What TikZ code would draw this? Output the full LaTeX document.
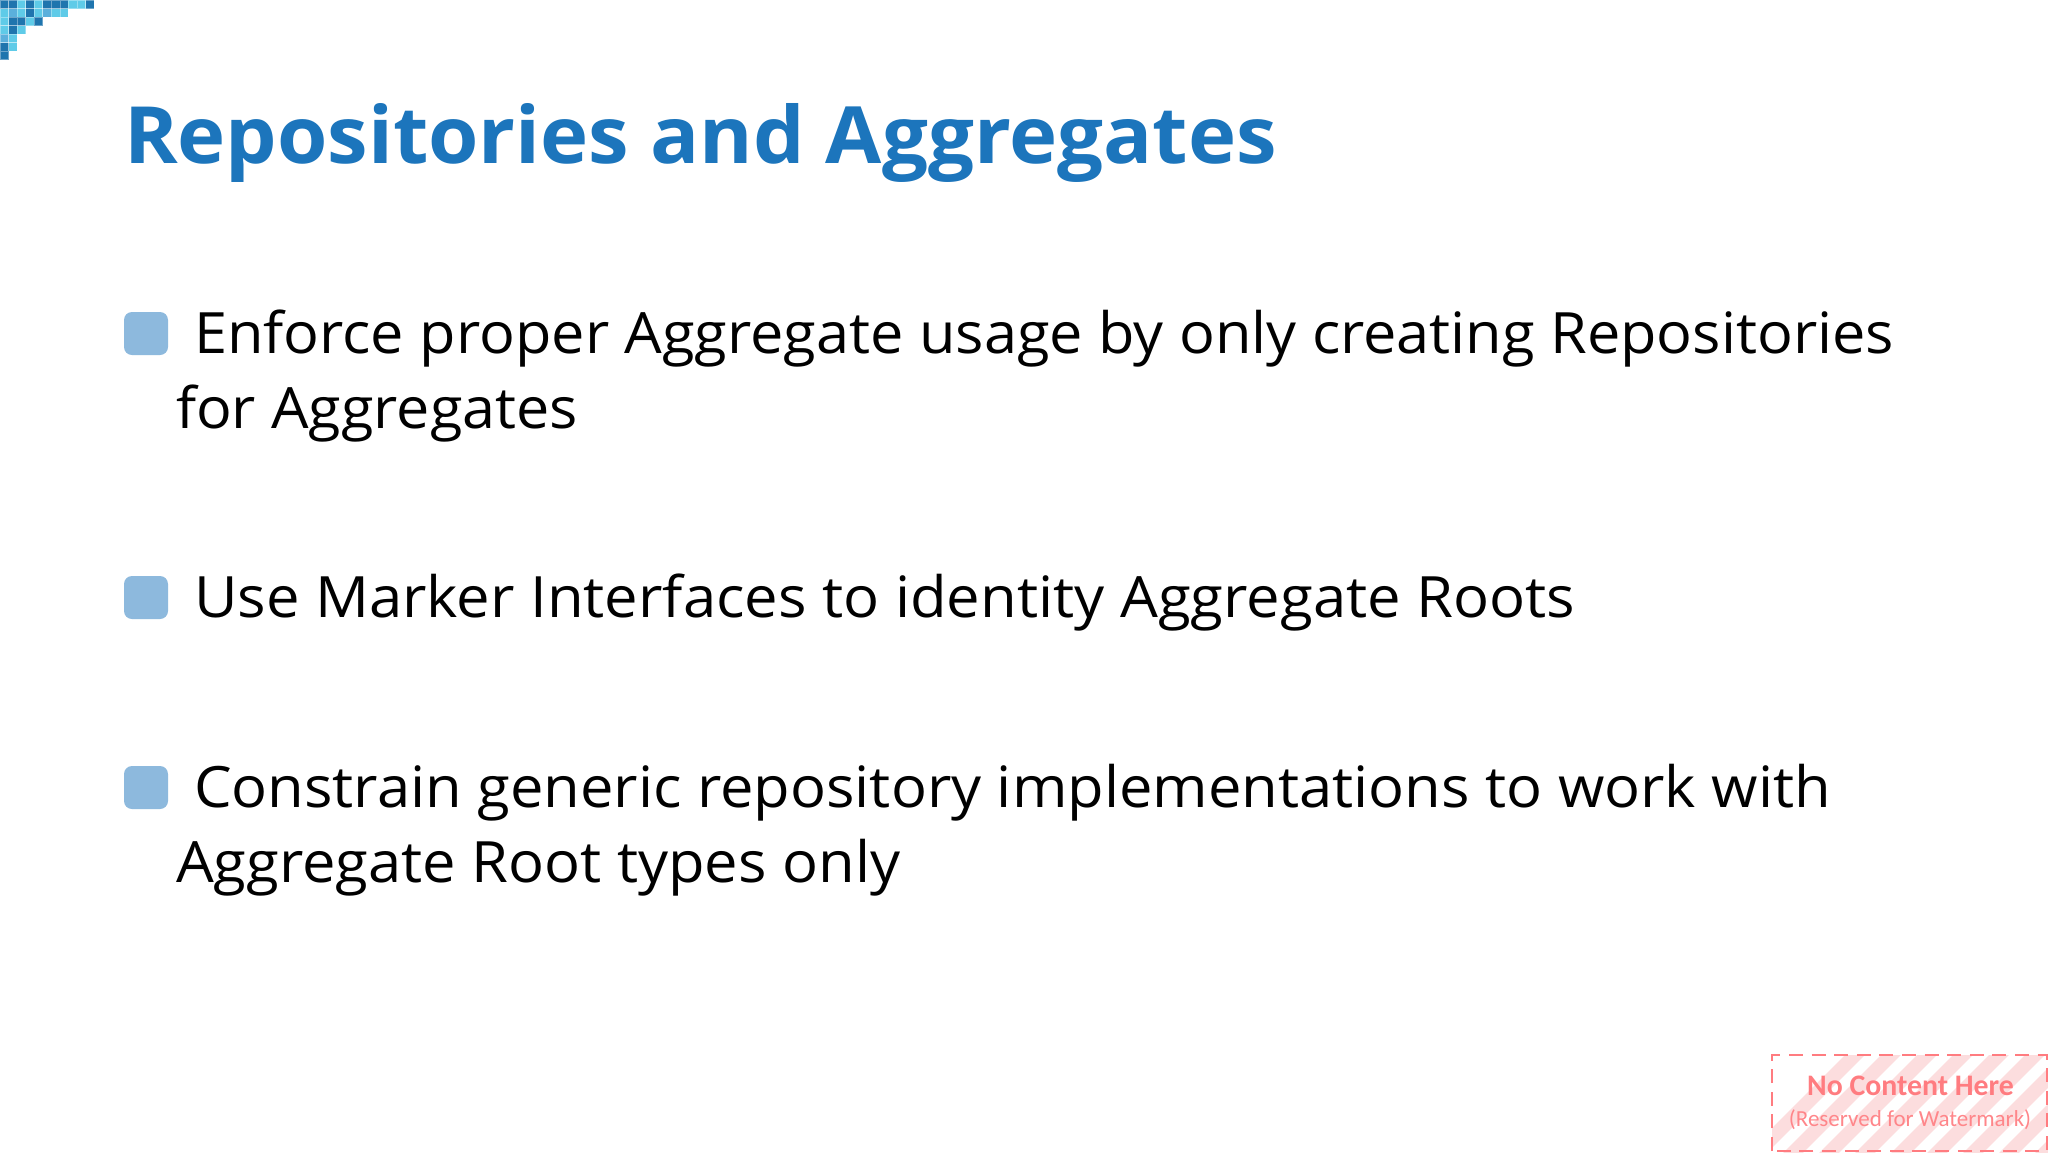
\documentclass[tikz,border=0pt]{standalone}
\usepackage{fontspec}
\setmainfont{Open Sans}
\newfontfamily\wmfont{Carlito}
\definecolor{titleblue}{HTML}{1C75BC}
\definecolor{bulletblue}{HTML}{8DB9DD}
\definecolor{wmred}{HTML}{FF7C80}
\definecolor{wmpink}{HTML}{FCDDDE}
\definecolor{celldark}{HTML}{1F75AE}
\definecolor{cellmid}{HTML}{5BB0DC}
\definecolor{celllight}{HTML}{5FCBE8}
\tikzset{
  px/.style={x=0.5pt,y=-0.5pt},
  txt/.style={anchor=base west,inner sep=0pt,outer sep=0pt,text=black,font=\fontsize{28.5}{33}\selectfont\addfontfeature{FakeStretch=#1}},
  txt/.default=1.047,
  ttl/.style={anchor=base west,inner sep=0pt,outer sep=0pt,text=titleblue,font=\fontsize{39.5}{46}\selectfont\bfseries\addfontfeature{FakeStretch=1.031}},
  bul/.style={fill=bulletblue,rounded corners=4pt,draw=none},
  wmt/.style={inner sep=0pt,outer sep=0pt,anchor=base,text=wmred},
  cellbox/.style={draw=white,draw opacity=.35,line width=.3pt},
}
\newcommand{\cellrow}[2]{%
  \foreach \c [count=\i from 0] in {#2} {
    \filldraw[fill=cell\c,cellbox] (\i*8.55,#1*8.5) rectangle ++(8.55,8.5);
  }}
\begin{document}
\begin{tikzpicture}[px]
\useasboundingbox (0,0) rectangle (2048,1152);
\fill[white] (0,0) rectangle (2048,1152);
% corner mosaic
\cellrow{0}{dark,dark,light,dark,light,dark,dark,dark,light,light,dark}
\cellrow{1}{light,mid,light,dark,light,mid,light,light}
\cellrow{2}{light,dark,dark,light,dark}
\cellrow{3}{light,dark,light}
\cellrow{4}{mid,light}
\cellrow{5}{dark,light}
\cellrow{6}{dark}
% title
\node[ttl] (title) at (124,163) {Repositories and Aggregates};
% bullets
\fill[bul] (124,312) rectangle (168,355);
\fill[bul] (124,576) rectangle (168,619);
\fill[bul] (124,766) rectangle (168,809);
\node[txt=1.043] (a1) at (194,353) {Enforce proper Aggregate usage by only creating Repositories};
\node[txt=1.040] (a2) at (176,428) {for Aggregates};
\node[txt=1.049] (b1) at (194,617) {Use Marker Interfaces to identity Aggregate Roots};
\node[txt] (c1) at (194,807) {Constrain generic repository implementations to work with};
\node[txt] (c2) at (176,882) {Aggregate Root types only};
% watermark
\begin{scope}
\clip (1772,1055) rectangle (2048,1152);
\foreach \k in {0,...,12} {
  \draw[wmpink,line width=7pt] (1740+\k*36,1170) -- ++(130,-130);
}
\end{scope}
\draw[wmred,line width=1.2pt,dash pattern=on 7pt off 4.3pt] (1772,1151) |- (2047,1055) -- (2047,1151) -- cycle;
\node[wmt,font=\wmfont\fontsize{14.9}{17}\selectfont\bfseries] (w1) at (1910.5,1095) {No Content Here};
\node[wmt,font=\wmfont\fontsize{11.5}{14}\selectfont,text=wmred!92!white] (w2) at (1910,1126) {(Reserved for Watermark)};
\end{tikzpicture}
\end{document}
